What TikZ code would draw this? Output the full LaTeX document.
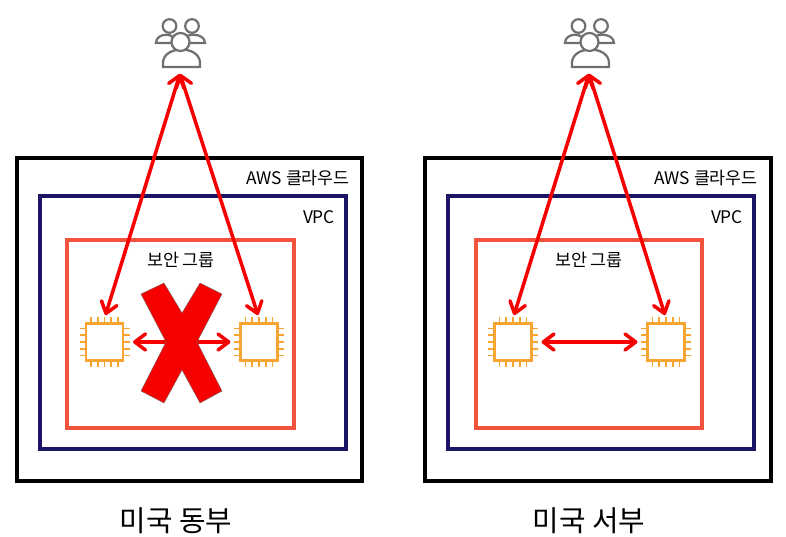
\documentclass[tikz,border=0pt]{standalone}
\usepackage{fontspec}
\setmainfont{Noto Sans CJK KR}
\usepackage{tikz}
\usetikzlibrary{arrows.meta}
\definecolor{vpcnavy}{HTML}{1B1464}
\definecolor{sgred}{HTML}{F0523D}
\definecolor{chiporange}{HTML}{F8A433}
\definecolor{linkred}{HTML}{F70000}
\definecolor{usergrey}{HTML}{707070}
\tikzset{
  cloudbox/.style={draw=black, line width=2.9pt},
  vpcbox/.style={draw=vpcnavy, line width=2.6pt},
  sgbox/.style={draw=sgred, line width=2.6pt},
  chipbox/.style={draw=chiporange, line width=1.8pt, fill=white, minimum size=1.11cm, inner sep=0pt},
  usernode/.style={minimum width=1.4cm, minimum height=1.6cm, inner sep=0pt},
  link/.style={draw=linkred, line width=3pt, {Straight Barb[length=3.2mm,width=4.8mm,round]}-{Straight Barb[length=3.2mm,width=4.8mm,round]}},
  boxlabel/.style={font=\fontsize{14.8}{17}\selectfont, inner sep=0pt},
  caption/.style={font=\fontsize{24.6}{28}\selectfont, inner sep=0pt},
  pics/chippins/.style={code={
    \foreach \o in {-13.4,-6.7,0,6.7,13.4} {
      \draw[chiporange, line width=1.4pt] (\o,-18.5) -- (\o,-25);
      \draw[chiporange, line width=1.4pt] (\o,18.5) -- (\o,25);
      \draw[chiporange, line width=1.4pt] (-18.5,\o) -- (-25,\o);
      \draw[chiporange, line width=1.4pt] (18.5,\o) -- (25,\o);
    }
  }},
  pics/usergroup/.style={code={
    \begin{scope}[draw=usergrey, line width=1.9pt, fill=white]
      \filldraw (-24,-4) .. controls (-24,-15) and (-4,-15) .. (-4,-4) -- cycle;
      \filldraw (2,-4) .. controls (2,-15) and (25,-15) .. (25,-4) -- cycle;
      \filldraw (-10.5,-21) circle (6.8);
      \filldraw (12,-21) circle (6.8);
      \filldraw (-17,20) -- (-17,16) .. controls (-17,-2) and (20,-2) .. (20,16) -- (20,20) -- cycle;
      \filldraw (0.5,-5) circle (9);
    \end{scope}
  }},
}
\begin{document}
\begin{tikzpicture}[x=0.03cm, y=-0.03cm]
  \useasboundingbox (0,0) rectangle (786,537);
  % left region
  \node[cloudbox, minimum width=345*0.03cm, minimum height=323*0.03cm] (cloudE) at (189.5,319.5) {};
  \node[vpcbox, minimum width=306*0.03cm, minimum height=253*0.03cm] (vpcE) at (193,322.5) {};
  \node[sgbox, minimum width=227*0.03cm, minimum height=188*0.03cm] (sgE) at (180.5,334) {};
  \node[boxlabel] (cloudlabelE) at (298,178) {AWS 클라우드};
  \node[boxlabel] (vpclabelE) at (319,217) {VPC};
  \node[boxlabel] (sglabelE) at (181,260) {보안 그룹};
  \node[caption] (captionE) at (176,521) {미국 동부};
  \node[usernode] (usersE) at (180,47) {};
  \pic at (usersE) {usergroup};
  \node[chipbox] (chipEa) at (104.5,342) {};
  \node[chipbox] (chipEb) at (259,342) {};
  \pic at (chipEa) {chippins};
  \pic at (chipEb) {chippins};
  \path[link] (usersE.south) -- ([xshift=0.03cm,yshift=0.22cm]chipEa.north);
  \path[link] (usersE.south) -- ([xshift=-0.03cm,yshift=0.22cm]chipEb.north);
  \path[link] ([xshift=0.27cm]chipEa.east) -- ([xshift=-0.27cm]chipEb.west);
  \fill[linkred, draw=black!60, line width=0.3pt] (141,294) -- (164,283) -- (182,313) -- (200,283) -- (222,294) -- (197,342) -- (222,391) -- (200,403) -- (182,370) -- (164,403) -- (141,391) -- (166,342) -- cycle;
  % right region
  \node[cloudbox, minimum width=346*0.03cm, minimum height=323*0.03cm] (cloudW) at (598,319.5) {};
  \node[vpcbox, minimum width=306*0.03cm, minimum height=253*0.03cm] (vpcW) at (601,322.5) {};
  \node[sgbox, minimum width=226*0.03cm, minimum height=188*0.03cm] (sgW) at (589,334) {};
  \node[boxlabel] (cloudlabelW) at (706,178) {AWS 클라우드};
  \node[boxlabel] (vpclabelW) at (727,217) {VPC};
  \node[boxlabel] (sglabelW) at (589,260) {보안 그룹};
  \node[caption] (captionW) at (589,521) {미국 서부};
  \node[usernode] (usersW) at (589,47) {};
  \pic at (usersW) {usergroup};
  \node[chipbox] (chipWa) at (513,342) {};
  \node[chipbox] (chipWb) at (666,342) {};
  \pic at (chipWa) {chippins};
  \pic at (chipWb) {chippins};
  \path[link] (usersW.south) -- ([xshift=0.03cm,yshift=0.22cm]chipWa.north);
  \path[link] (usersW.south) -- ([xshift=-0.03cm,yshift=0.22cm]chipWb.north);
  \path[link] ([xshift=0.27cm]chipWa.east) -- ([xshift=-0.27cm]chipWb.west);
\end{tikzpicture}
\end{document}
